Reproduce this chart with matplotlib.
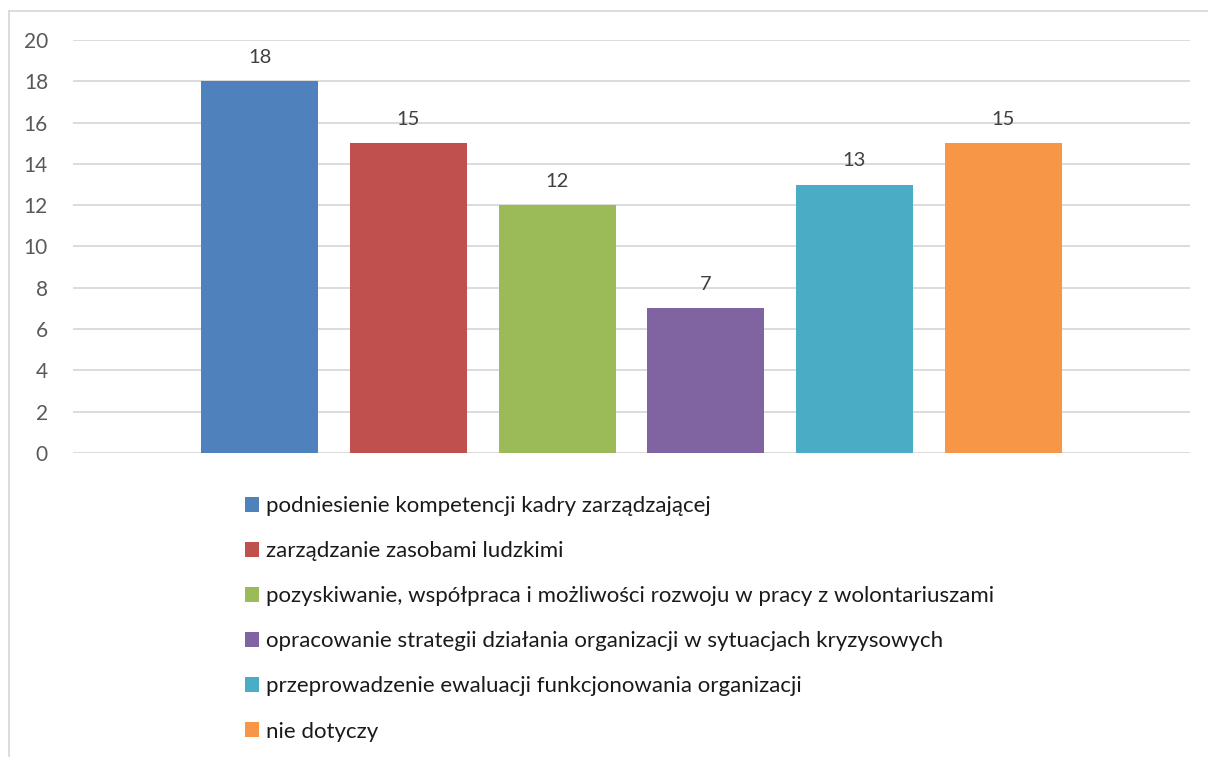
import matplotlib
matplotlib.use("Agg")
import matplotlib.pyplot as plt
from matplotlib.lines import Line2D
from matplotlib.patches import Patch

labels = [
    "podniesienie kompetencji kadry zarządzającej",
    "zarządzanie zasobami ludzkimi",
    "pozyskiwanie, współpraca i możliwości rozwoju w pracy z wolontariuszami",
    "opracowanie strategii działania organizacji w sytuacjach kryzysowych",
    "przeprowadzenie ewaluacji funkcjonowania organizacji",
    "nie dotyczy",
]
values = [18, 15, 12, 7, 13, 15]
colors = ["#4f81bd", "#c0504d", "#9bbb59", "#8064a2", "#4bacc6", "#f79646"]
yticks = [0, 2, 4, 6, 8, 10, 12, 14, 16, 18, 20]

plt.rcParams['font.family'] = ['Lato', 'DejaVu Sans']

W, H = 1208, 757
fig = plt.figure(figsize=(W / 100, H / 100), dpi=100)
ax = fig.add_axes([73 / W, 1 - 453 / H, (1190 - 73) / W, (453 - 40) / H])

xs = list(range(len(values)))
bars = ax.bar(xs, values, width=0.788, color=colors, zorder=3)
for x, v in zip(xs, values):
    ax.annotate(str(v), (x, v), xytext=(0, 11), textcoords="offset points",
                ha="center", va="bottom", fontsize=14.5, color="#404040")

ax.set_xlim(-1.256, 6.256)
ax.set_ylim(0, 20)
ax.set_yticks(yticks)
ax.set_xticks([])
ax.grid(axis="y", color="#d9d9d9", linewidth=1.3, zorder=0)
for s in ax.spines.values():
    s.set_visible(False)
ax.tick_params(axis="y", length=0, pad=18, labelsize=15, labelcolor="#595959")

handles = [Patch(facecolor=c, edgecolor="none") for c in colors]
fig.legend(handles, labels, loc="upper left",
           bbox_to_anchor=(245 / W, 1 - 496 / H), frameon=False,
           fontsize=16, handlelength=0.65, handleheight=0.65,
           handletextpad=0.3, labelspacing=1.13, borderpad=0, borderaxespad=0,
           labelcolor="#1a1a1a")

# outer chart border (top and left visible)
fig.add_artist(Line2D([9 / W, 1.0], [1 - 11 / H, 1 - 11 / H], color="#d9d9d9", linewidth=1.3))
fig.add_artist(Line2D([9 / W, 9 / W], [0, 1 - 11 / H], color="#d9d9d9", linewidth=1.3))

fig.savefig("out.png", dpi=100, facecolor="white")
